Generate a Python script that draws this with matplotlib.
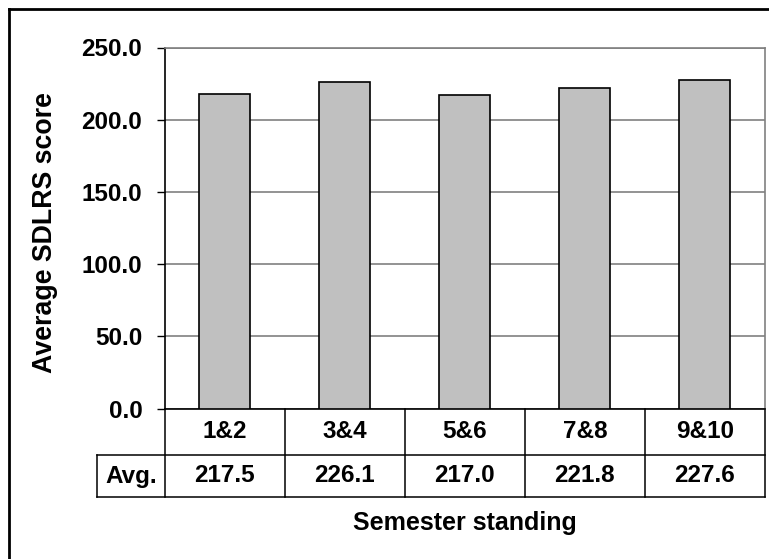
import matplotlib as mpl
mpl.use('Agg')
import matplotlib.pyplot as plt
from matplotlib.lines import Line2D
import matplotlib.transforms as mtransforms

# data
semesters = ['1&2', '3&4', '5&6', '7&8', '9&10']
avg_scores = [217.5, 226.1, 217.0, 221.8, 227.6]
row_label = 'Avg.'
y_ticks = [0, 50, 100, 150, 200, 250]

W, H = 769, 559
plt.rcParams['font.family'] = ['Liberation Sans', 'DejaVu Sans']
plt.rcParams['font.weight'] = 'bold'

fig = plt.figure(figsize=(W / 100, H / 100), dpi=100, facecolor='white')

# plot area in pixels (left, top, right, bottom)
pl, pt, pr, pb = 164.5, 47.5, 765, 408.5
ax = fig.add_axes([pl / W, 1 - pb / H, (pr - pl) / W, (pb - pt) / H])

x = list(range(len(semesters)))
ax.bar(x, avg_scores, width=0.425, color='#C0C0C0', edgecolor='black',
       linewidth=1.2, zorder=3)
ax.set_xlim(-0.5, len(semesters) - 0.5)
ax.set_ylim(0, 250)
ax.set_yticks(y_ticks)
ax.set_yticklabels(['%.1f' % v for v in y_ticks], fontsize=17.5, fontweight='bold')
ax.tick_params(axis='y', direction='out', length=6, width=1, pad=10, color='black')
ax.set_xticks([])
ax.yaxis.grid(True, color='#808080', linewidth=1.2, zorder=0)
ax.set_axisbelow(True)

for s in ['top', 'right']:
    ax.spines[s].set_color('#808080')
    ax.spines[s].set_linewidth(1.2)
for s in ['left', 'bottom']:
    ax.spines[s].set_color('black')
    ax.spines[s].set_linewidth(1.2)

# data table under the axis
ph = pb - pt
row1 = -(455 - pb) / ph
row2 = -(497 - pb) / ph
left_cell = -0.5 - (pl - 97) / ((pr - pl) / len(semesters))
trans = mtransforms.blended_transform_factory(ax.transData, ax.transAxes)
lkw = dict(color='black', linewidth=1.1, transform=trans, clip_on=False)

ax.add_line(Line2D([left_cell, 4.5], [row1, row1], **lkw))
ax.add_line(Line2D([left_cell, 4.5], [row2, row2], **lkw))
ax.add_line(Line2D([left_cell, left_cell], [row1, row2], **lkw))
for k in range(len(semesters) + 1):
    ax.add_line(Line2D([k - 0.5, k - 0.5], [0, row2], **lkw))

for i, (lab, val) in enumerate(zip(semesters, avg_scores)):
    ax.text(i, row1 / 2, lab, transform=trans, ha='center', va='center',
            fontsize=17.5, fontweight='bold')
    ax.text(i, (row1 + row2) / 2, '%.1f' % val, transform=trans, ha='center',
            va='center', fontsize=17.5, fontweight='bold')
ax.text((left_cell - 0.5) / 2, (row1 + row2) / 2, row_label, transform=trans,
        ha='center', va='center', fontsize=17.5, fontweight='bold')

# axis titles
fig.text((pl + pr) / 2 / W, 1 - 523 / H, 'Semester standing', ha='center',
         va='center', fontsize=18, fontweight='bold')
fig.text(45 / W, 1 - 233 / H, 'Average SDLRS score', ha='center', va='center',
         rotation=90, fontsize=19.3, fontweight='bold')

# outer chart frame (open at right/bottom edges)
fkw = dict(color='black', linewidth=2, transform=fig.transFigure)
fig.add_artist(Line2D([9 / W, 9 / W], [0, 1 - 9 / H], **fkw))
fig.add_artist(Line2D([9 / W, 1], [1 - 9 / H, 1 - 9 / H], **fkw))

fig.savefig('out.png', dpi=100, facecolor='white')
